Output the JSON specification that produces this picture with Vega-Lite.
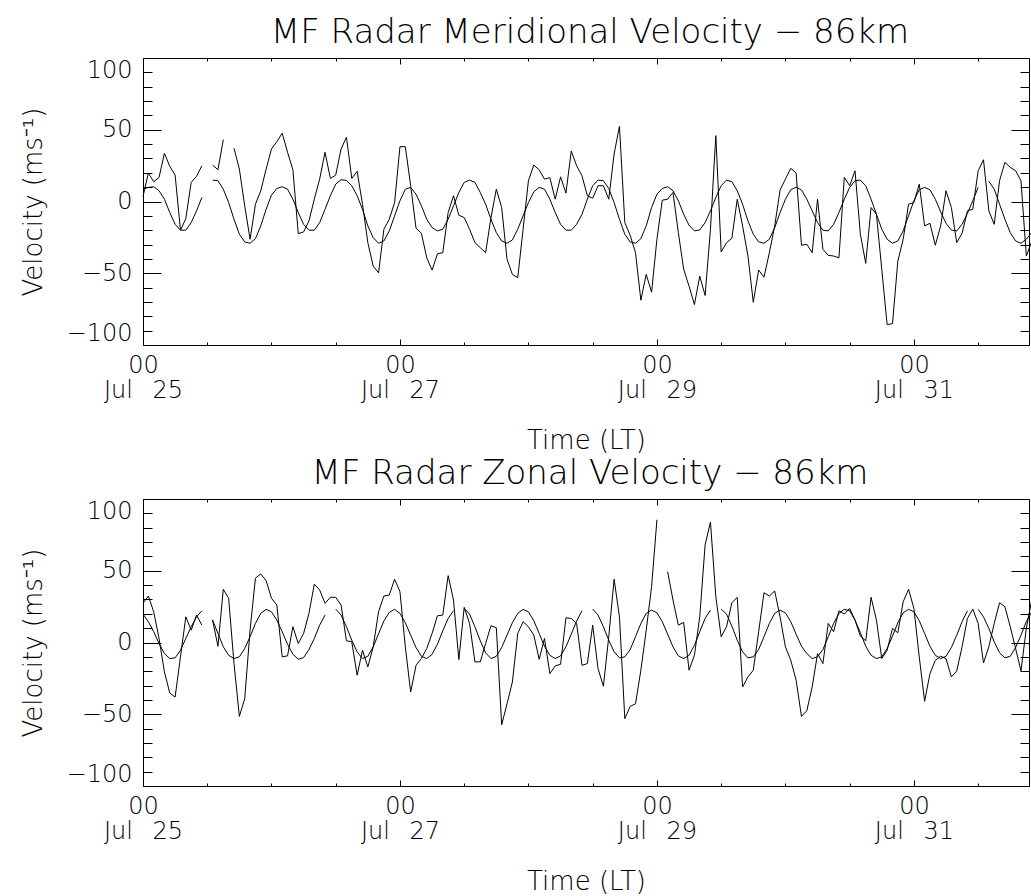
{
  "$schema": "https://vega.github.io/schema/vega-lite/v6.json",
  "background": "white",
  "padding": {"left": 20, "top": 15, "right": 0, "bottom": 0},
  "spacing": 3,
  "config": {
    "view": {"stroke": null},
    "font": "DejaVu Sans",
    "axis": {"grid": false, "domainColor": "black", "domainWidth": 1, "tickColor": "black", "tickWidth": 1, "tickOpacity": 1, "labelFont": "DejaVu Sans", "labelFontWeight": 200, "labelColor": "black", "labelFontSize": 24, "titleFont": "DejaVu Sans", "titleFontWeight": 200, "titleColor": "black", "titleFontSize": 26, "labelOverlap": false, "labelBound": false},
    "line": {"color": "black", "strokeWidth": 1, "clip": true, "invalid": "break-paths-filter-domains"}
  },
  "datasets": {
    "merRaw": [{"h":0,"v":3.5},{"h":1,"v":19.8},{"h":2,"v":13.8},{"h":3,"v":16.8},{"h":4,"v":33.6},{"h":5,"v":24.5},{"h":6,"v":18.4},{"h":7,"v":-20},{"h":8,"v":-11.9},{"h":9,"v":13.3},{"h":10,"v":17.5},{"h":11,"v":24.9},{"h":12,"v":null},{"h":13,"v":25.4},{"h":14,"v":22.1},{"h":15,"v":43.1},{"h":16,"v":null},{"h":17,"v":37.1},{"h":18,"v":22.6},{"h":19,"v":-3},{"h":20,"v":-26.3},{"h":21,"v":-1.9},{"h":22,"v":7.5},{"h":23,"v":22.6},{"h":24,"v":36.6},{"h":25,"v":41.7},{"h":26,"v":47.6},{"h":27,"v":34.3},{"h":28,"v":22.1},{"h":29,"v":-22.4},{"h":30,"v":-21.2},{"h":31,"v":-13.5},{"h":32,"v":1.6},{"h":33,"v":15.6},{"h":34,"v":34.3},{"h":35,"v":16.1},{"h":36,"v":18.4},{"h":37,"v":36.6},{"h":38,"v":44.8},{"h":39,"v":16.1},{"h":40,"v":21},{"h":41,"v":-1.9},{"h":42,"v":-28.7},{"h":43,"v":-45},{"h":44,"v":-49.7},{"h":45,"v":-19.3},{"h":46,"v":-12.4},{"h":47,"v":-0.7},{"h":48,"v":38.2},{"h":49,"v":38.2},{"h":50,"v":11},{"h":51,"v":-18.6},{"h":52,"v":-22.1},{"h":53,"v":-39.2},{"h":54,"v":-47.8},{"h":55,"v":-36.4},{"h":56,"v":-35.7},{"h":57,"v":-7.7},{"h":58,"v":4},{"h":59,"v":-9.6},{"h":60,"v":-11.2},{"h":61,"v":-19.3},{"h":62,"v":-28.7},{"h":63,"v":-32.2},{"h":64,"v":-35.7},{"h":65,"v":-11.2},{"h":66,"v":8.6},{"h":67,"v":-4.2},{"h":68,"v":-40.3},{"h":69,"v":-50.8},{"h":70,"v":-53.1},{"h":71,"v":-19.3},{"h":72,"v":14.5},{"h":73,"v":25.4},{"h":74,"v":22.1},{"h":75,"v":15.6},{"h":76,"v":16.6},{"h":77,"v":1.6},{"h":78,"v":17.2},{"h":79,"v":5.8},{"h":80,"v":35.2},{"h":81,"v":24.9},{"h":82,"v":17.9},{"h":83,"v":4},{"h":84,"v":2.3},{"h":85,"v":11},{"h":86,"v":11},{"h":87,"v":1.6},{"h":88,"v":33.1},{"h":89,"v":52.4},{"h":90,"v":-14.7},{"h":91,"v":-23.5},{"h":92,"v":-35.7},{"h":93,"v":-68.8},{"h":94,"v":-50.8},{"h":95,"v":-63.2},{"h":96,"v":-26.3},{"h":97,"v":0.9},{"h":98,"v":1.6},{"h":99,"v":6.3},{"h":100,"v":-21.7},{"h":101,"v":-47.3},{"h":102,"v":-59},{"h":103,"v":-71.8},{"h":104,"v":-52},{"h":105,"v":-65.5},{"h":106,"v":-19.3},{"h":107,"v":45.9},{"h":108,"v":-35.2},{"h":109,"v":-28.7},{"h":110,"v":-25.6},{"h":111,"v":1.6},{"h":112,"v":-17},{"h":113,"v":-38},{"h":114,"v":-70.2},{"h":115,"v":-47.8},{"h":116,"v":-52.7},{"h":117,"v":-35.7},{"h":118,"v":-17},{"h":119,"v":7.9},{"h":120,"v":15.6},{"h":121,"v":23.1},{"h":122,"v":19.8},{"h":123,"v":-30.5},{"h":124,"v":-29.8},{"h":125,"v":-35.7},{"h":126,"v":1.6},{"h":127,"v":-33.3},{"h":128,"v":-37.5},{"h":129,"v":-38},{"h":130,"v":-39.2},{"h":131,"v":16.8},{"h":132,"v":11},{"h":133,"v":21.4},{"h":134,"v":-22.8},{"h":135,"v":-43.1},{"h":136,"v":-4.2},{"h":137,"v":-8.9},{"h":138,"v":-47.3},{"h":139,"v":-85.8},{"h":140,"v":-85.1},{"h":141,"v":-41.5},{"h":142,"v":-26.3},{"h":143,"v":-1.9},{"h":144,"v":-0.7},{"h":145,"v":12.1},{"h":146,"v":-17},{"h":147,"v":-15.2},{"h":148,"v":-30.5},{"h":149,"v":-17},{"h":150,"v":7.5},{"h":151,"v":-4.2},{"h":152,"v":-28.7},{"h":153,"v":-22.1},{"h":154,"v":-6.5},{"h":155,"v":-5.4},{"h":156,"v":21.4},{"h":157,"v":29.1},{"h":158,"v":-6.5},{"h":159,"v":-15.9},{"h":160,"v":14.5},{"h":161,"v":27.3},{"h":162,"v":23.8},{"h":163,"v":21.4},{"h":164,"v":14.5},{"h":165,"v":-38},{"h":166,"v":-28}],
    "merFit": [{"h":0,"v":8.6},{"h":1,"v":9.8},{"h":2,"v":10.3},{"h":3,"v":7.5},{"h":4,"v":1.6},{"h":5,"v":-7.7},{"h":6,"v":-15.9},{"h":7,"v":-20},{"h":8,"v":-20},{"h":9,"v":-14.7},{"h":10,"v":-6.5},{"h":11,"v":2.8},{"h":12,"v":null},{"h":13,"v":14.9},{"h":14,"v":14.5},{"h":15,"v":8.6},{"h":16,"v":-0.7},{"h":17,"v":-12.4},{"h":18,"v":-22.8},{"h":19,"v":-28.2},{"h":20,"v":-29.1},{"h":21,"v":-25.9},{"h":22,"v":-17},{"h":23,"v":-5.4},{"h":24,"v":4.4},{"h":25,"v":9.1},{"h":26,"v":10.3},{"h":27,"v":8.6},{"h":28,"v":1.6},{"h":29,"v":-7.7},{"h":30,"v":-15.9},{"h":31,"v":-20},{"h":32,"v":-20},{"h":33,"v":-14.7},{"h":34,"v":-5.4},{"h":35,"v":4},{"h":36,"v":12.1},{"h":37,"v":15.2},{"h":38,"v":14.7},{"h":39,"v":11},{"h":40,"v":4},{"h":41,"v":-5.4},{"h":42,"v":-17},{"h":43,"v":-25.2},{"h":44,"v":-29.1},{"h":45,"v":-27.5},{"h":46,"v":-20.5},{"h":47,"v":-10},{"h":48,"v":0.5},{"h":49,"v":8.6},{"h":50,"v":9.8},{"h":51,"v":5.1},{"h":52,"v":-3},{"h":53,"v":-12.4},{"h":54,"v":-18.2},{"h":55,"v":-20.5},{"h":56,"v":-19.3},{"h":57,"v":-12.4},{"h":58,"v":-3},{"h":59,"v":6.3},{"h":60,"v":13.3},{"h":61,"v":14.9},{"h":62,"v":13.3},{"h":63,"v":6.3},{"h":64,"v":-1.9},{"h":65,"v":-12.4},{"h":66,"v":-21.7},{"h":67,"v":-27.5},{"h":68,"v":-29.1},{"h":69,"v":-26.8},{"h":70,"v":-19.3},{"h":71,"v":-10},{"h":72,"v":-0.7},{"h":73,"v":6.8},{"h":74,"v":9.8},{"h":75,"v":8.6},{"h":76,"v":1.6},{"h":77,"v":-7.7},{"h":78,"v":-15.9},{"h":79,"v":-20},{"h":80,"v":-20},{"h":81,"v":-15.9},{"h":82,"v":-8.9},{"h":83,"v":1.6},{"h":84,"v":11},{"h":85,"v":14.9},{"h":86,"v":14.5},{"h":87,"v":9.1},{"h":88,"v":-0.7},{"h":89,"v":-12.4},{"h":90,"v":-22.8},{"h":91,"v":-28.2},{"h":92,"v":-29.1},{"h":93,"v":-25.9},{"h":94,"v":-17},{"h":95,"v":-4.2},{"h":96,"v":5.1},{"h":97,"v":9.1},{"h":98,"v":10.3},{"h":99,"v":7.5},{"h":100,"v":0.5},{"h":101,"v":-8.9},{"h":102,"v":-16.6},{"h":103,"v":-20.5},{"h":104,"v":-19.8},{"h":105,"v":-14.7},{"h":106,"v":-6.5},{"h":107,"v":2.8},{"h":108,"v":11},{"h":109,"v":14.9},{"h":110,"v":13.8},{"h":111,"v":7.5},{"h":112,"v":-1.9},{"h":113,"v":-13.5},{"h":114,"v":-22.8},{"h":115,"v":-28.2},{"h":116,"v":-29.1},{"h":117,"v":-26.3},{"h":118,"v":-18.2},{"h":119,"v":-7.7},{"h":120,"v":1.6},{"h":121,"v":8.2},{"h":122,"v":10},{"h":123,"v":8},{"h":124,"v":1.6},{"h":125,"v":-6.5},{"h":126,"v":-14.7},{"h":127,"v":-20},{"h":128,"v":-20.5},{"h":129,"v":-15.9},{"h":130,"v":-7.7},{"h":131,"v":1.6},{"h":132,"v":9.8},{"h":133,"v":14.5},{"h":134,"v":14.9},{"h":135,"v":11},{"h":136,"v":1.6},{"h":137,"v":-8.9},{"h":138,"v":-19.3},{"h":139,"v":-26.3},{"h":140,"v":-29.1},{"h":141,"v":-27.5},{"h":142,"v":-20.5},{"h":143,"v":-10},{"h":144,"v":0.5},{"h":145,"v":8.2},{"h":146,"v":9.8},{"h":147,"v":8.2},{"h":148,"v":1.6},{"h":149,"v":-7.2},{"h":150,"v":-15.2},{"h":151,"v":-20},{"h":152,"v":-20.5},{"h":153,"v":-15.9},{"h":154,"v":-8.2},{"h":155,"v":0.5},{"h":156,"v":9.8},{"h":157,"v":null},{"h":158,"v":14},{"h":159,"v":8.6},{"h":160,"v":-1.9},{"h":161,"v":-12.4},{"h":162,"v":-21.7},{"h":163,"v":-27.5},{"h":164,"v":-29.1},{"h":165,"v":-26.3},{"h":166,"v":-21.7}],
    "zonRaw": [{"h":0,"v":27.3},{"h":1,"v":32.4},{"h":2,"v":21.4},{"h":3,"v":2.8},{"h":4,"v":-20.5},{"h":5,"v":-35.2},{"h":6,"v":-38},{"h":7,"v":-10},{"h":8,"v":17.9},{"h":9,"v":8.6},{"h":10,"v":19.1},{"h":11,"v":12.1},{"h":12,"v":null},{"h":13,"v":15.6},{"h":14,"v":-2.6},{"h":15,"v":37.1},{"h":16,"v":30.8},{"h":17,"v":-14.7},{"h":18,"v":-51.5},{"h":19,"v":-39.2},{"h":20,"v":8.6},{"h":21,"v":44.8},{"h":22,"v":47.8},{"h":23,"v":43.1},{"h":24,"v":30.8},{"h":25,"v":26.1},{"h":26,"v":-10},{"h":27,"v":-9.3},{"h":28,"v":11},{"h":29,"v":-0.7},{"h":30,"v":6.3},{"h":31,"v":20.3},{"h":32,"v":40.6},{"h":33,"v":36.6},{"h":34,"v":27.3},{"h":35,"v":31.5},{"h":36,"v":31.5},{"h":37,"v":26.1},{"h":38,"v":1.2},{"h":39,"v":0.5},{"h":40,"v":-22.8},{"h":41,"v":-5.4},{"h":42,"v":-17},{"h":43,"v":-3},{"h":44,"v":21.4},{"h":45,"v":32.4},{"h":46,"v":33.1},{"h":47,"v":44.1},{"h":48,"v":35.4},{"h":49,"v":-3},{"h":50,"v":-34.5},{"h":51,"v":-15.9},{"h":52,"v":-11.2},{"h":53,"v":-4.2},{"h":54,"v":6.3},{"h":55,"v":18.6},{"h":56,"v":19.1},{"h":57,"v":46.6},{"h":58,"v":29.6},{"h":59,"v":-11.9},{"h":60,"v":24.5},{"h":61,"v":13.3},{"h":62,"v":-13.5},{"h":63,"v":-13.5},{"h":64,"v":-0.7},{"h":65,"v":11.7},{"h":66,"v":10.3},{"h":67,"v":-57.4},{"h":68,"v":-42.7},{"h":69,"v":-27.5},{"h":70,"v":6.3},{"h":71,"v":14.5},{"h":72,"v":11},{"h":73,"v":5.1},{"h":74,"v":-11.7},{"h":75,"v":2.8},{"h":76,"v":-21.7},{"h":77,"v":-16.3},{"h":78,"v":-15.2},{"h":79,"v":17.2},{"h":80,"v":16.8},{"h":81,"v":13.3},{"h":82,"v":-15.9},{"h":83,"v":-14.7},{"h":84,"v":12.1},{"h":85,"v":-18.2},{"h":86,"v":-30.5},{"h":87,"v":4},{"h":88,"v":44.1},{"h":89,"v":17.9},{"h":90,"v":-53.1},{"h":91,"v":-44.5},{"h":92,"v":-42.7},{"h":93,"v":-19.3},{"h":94,"v":8.6},{"h":95,"v":38.9},{"h":96,"v":85.5},{"h":97,"v":null},{"h":98,"v":49.4},{"h":99,"v":29.6},{"h":100,"v":12.1},{"h":101,"v":14},{"h":102,"v":-19.3},{"h":103,"v":-8.9},{"h":104,"v":17.9},{"h":105,"v":68.1},{"h":106,"v":83.9},{"h":107,"v":31.9},{"h":108,"v":4},{"h":109,"v":11},{"h":110,"v":27.7},{"h":111,"v":31.5},{"h":112,"v":-31},{"h":113,"v":-24},{"h":114,"v":-19.3},{"h":115,"v":7.5},{"h":116,"v":34.7},{"h":117,"v":32.4},{"h":118,"v":35.9},{"h":119,"v":17.9},{"h":120,"v":-3},{"h":121,"v":-12.4},{"h":122,"v":-26.3},{"h":123,"v":-51.5},{"h":124,"v":-47.5},{"h":125,"v":-31},{"h":126,"v":-7.7},{"h":127,"v":-14.7},{"h":128,"v":13.3},{"h":129,"v":7.5},{"h":130,"v":22.1},{"h":131,"v":19.8},{"h":132,"v":23.8},{"h":133,"v":15.6},{"h":134,"v":4.4},{"h":135,"v":1.2},{"h":136,"v":31.5},{"h":137,"v":15.6},{"h":138,"v":-11.2},{"h":139,"v":-5.4},{"h":140,"v":9.8},{"h":141,"v":6.8},{"h":142,"v":28.4},{"h":143,"v":37.1},{"h":144,"v":23.8},{"h":145,"v":-10},{"h":146,"v":-41},{"h":147,"v":-21.7},{"h":148,"v":-12.4},{"h":149,"v":-9.6},{"h":150,"v":-11.2},{"h":151,"v":-24},{"h":152,"v":-19.8},{"h":153,"v":-3},{"h":154,"v":16.8},{"h":155,"v":23.3},{"h":156,"v":13.3},{"h":157,"v":-14.2},{"h":158,"v":-3},{"h":159,"v":13.3},{"h":160,"v":27.7},{"h":161,"v":24.9},{"h":162,"v":11},{"h":163,"v":-4.2},{"h":164,"v":-19.8},{"h":165,"v":9.8},{"h":166,"v":29.6}],
    "zonFit": [{"h":0,"v":19.8},{"h":1,"v":14.5},{"h":2,"v":7.5},{"h":3,"v":-0.7},{"h":4,"v":-7.7},{"h":5,"v":-11.2},{"h":6,"v":-10.7},{"h":7,"v":-5.4},{"h":8,"v":2.8},{"h":9,"v":11},{"h":10,"v":17.9},{"h":11,"v":22.1},{"h":12,"v":null},{"h":13,"v":15.6},{"h":14,"v":6.3},{"h":15,"v":-3},{"h":16,"v":-8.9},{"h":17,"v":-11.2},{"h":18,"v":-10},{"h":19,"v":-4.2},{"h":20,"v":4},{"h":21,"v":13.3},{"h":22,"v":20.3},{"h":23,"v":23.1},{"h":24,"v":21.4},{"h":25,"v":15.6},{"h":26,"v":7.5},{"h":27,"v":-1.2},{"h":28,"v":-8.2},{"h":29,"v":-11.7},{"h":30,"v":-10.5},{"h":31,"v":-4.9},{"h":32,"v":2.8},{"h":33,"v":12.1},{"h":34,"v":19.1},{"h":35,"v":null},{"h":36,"v":23.3},{"h":37,"v":19.1},{"h":38,"v":11},{"h":39,"v":1.6},{"h":40,"v":-6.5},{"h":41,"v":-11.2},{"h":42,"v":-9.6},{"h":43,"v":-3},{"h":44,"v":6},{"h":45,"v":15},{"h":46,"v":21},{"h":47,"v":23.1},{"h":48,"v":20.3},{"h":49,"v":13.8},{"h":50,"v":5.1},{"h":51,"v":-3.5},{"h":52,"v":-9.6},{"h":53,"v":-11.2},{"h":54,"v":-8.2},{"h":55,"v":-1.2},{"h":56,"v":8.2},{"h":57,"v":16.8},{"h":58,"v":22.1},{"h":59,"v":null},{"h":60,"v":23.8},{"h":61,"v":19.8},{"h":62,"v":11},{"h":63,"v":1.2},{"h":64,"v":-7.2},{"h":65,"v":-11.2},{"h":66,"v":-9.6},{"h":67,"v":-3.5},{"h":68,"v":5.1},{"h":69,"v":13.8},{"h":70,"v":20.3},{"h":71,"v":23.1},{"h":72,"v":21.4},{"h":73,"v":15.2},{"h":74,"v":6.3},{"h":75,"v":-2.6},{"h":76,"v":-8.9},{"h":77,"v":-11.2},{"h":78,"v":-9.3},{"h":79,"v":-3},{"h":80,"v":5.8},{"h":81,"v":14.9},{"h":82,"v":22.1},{"h":83,"v":null},{"h":84,"v":23.3},{"h":85,"v":19.1},{"h":86,"v":11},{"h":87,"v":1.6},{"h":88,"v":-6.5},{"h":89,"v":-10.7},{"h":90,"v":-10},{"h":91,"v":-4.9},{"h":92,"v":4},{"h":93,"v":13.3},{"h":94,"v":20.3},{"h":95,"v":22.6},{"h":96,"v":20.7},{"h":97,"v":14.5},{"h":98,"v":5.8},{"h":99,"v":-3},{"h":100,"v":-9.3},{"h":101,"v":-11.2},{"h":102,"v":-8.9},{"h":103,"v":-1.9},{"h":104,"v":7.5},{"h":105,"v":16.8},{"h":106,"v":22.6},{"h":107,"v":null},{"h":108,"v":23.3},{"h":109,"v":19.8},{"h":110,"v":11.4},{"h":111,"v":1.6},{"h":112,"v":-6.5},{"h":113,"v":-10.7},{"h":114,"v":-10},{"h":115,"v":-4.9},{"h":116,"v":4},{"h":117,"v":13.3},{"h":118,"v":20.3},{"h":119,"v":22.6},{"h":120,"v":20.7},{"h":121,"v":14.5},{"h":122,"v":5.8},{"h":123,"v":-2.6},{"h":124,"v":-7.7},{"h":125,"v":-11.2},{"h":126,"v":-10},{"h":127,"v":-4.9},{"h":128,"v":4},{"h":129,"v":13.3},{"h":130,"v":20.3},{"h":131,"v":23.1},{"h":132,"v":22.1},{"h":133,"v":15.6},{"h":134,"v":6.8},{"h":135,"v":-2.6},{"h":136,"v":-8.9},{"h":137,"v":-11.2},{"h":138,"v":-10},{"h":139,"v":-4.2},{"h":140,"v":4.4},{"h":141,"v":13.8},{"h":142,"v":20.7},{"h":143,"v":23.1},{"h":144,"v":21.4},{"h":145,"v":15.2},{"h":146,"v":6.3},{"h":147,"v":-2.6},{"h":148,"v":-8.9},{"h":149,"v":-11.2},{"h":150,"v":-9.6},{"h":151,"v":-3.5},{"h":152,"v":5.1},{"h":153,"v":14.5},{"h":154,"v":22.1},{"h":155,"v":null},{"h":156,"v":23.1},{"h":157,"v":17.9},{"h":158,"v":9.8},{"h":159,"v":0.5},{"h":160,"v":-7.2},{"h":161,"v":-10.7},{"h":162,"v":-9.6},{"h":163,"v":-3.5},{"h":164,"v":5.1},{"h":165,"v":14.5},{"h":166,"v":21.4}]
  },
  "vconcat": [
    {
      "width": 886,
      "height": 287,
      "title": {"text": "MF Radar Meridional Velocity − 86km", "font": "DejaVu Sans", "fontSize": 34, "fontWeight": 200, "color": "black", "offset": 8, "anchor": "middle", "frame": "group", "dx": 4},
      "resolve": {"axis": {"x": "independent", "y": "independent"}},
      "layer": [
        {
          "data": {"name": "merRaw"},
          "mark": {"type": "line"},
          "encoding": {
            "x": {"field": "h", "type": "quantitative", "scale": {"domain": [0, 165.5], "nice": false, "zero": false},
              "axis": {"orient": "bottom", "values": [0, 48, 96, 144], "ticks": true, "tickSize": -6, "domain": false, "labelExpr": "['00', 'Jul\u2002 ' + (25 + datum.value / 24)]", "labelPadding": 14.5, "labelLineHeight": 24.5, "labelFlush": false, "title": "Time (LT)", "titlePadding": 25}},
            "y": {"field": "v", "type": "quantitative", "scale": {"domain": [-100, 100], "nice": false, "zero": false},
              "axis": {"orient": "left", "values": [-100, -50, 0, 50, 100], "ticks": true, "tickSize": -18, "domain": false, "labelPadding": 29, "labelFlush": true, "title": "Velocity (ms⁻¹)", "titlePadding": 20}}
          }
        },
        {
          "data": {"name": "merFit"},
          "mark": {"type": "line"},
          "encoding": {
            "x": {"field": "h", "type": "quantitative", "scale": {"domain": [0, 165.5], "nice": false, "zero": false},
              "axis": {"orient": "bottom", "values": [0], "labels": false, "domain": true, "ticks": false, "title": null}},
            "y": {"field": "v", "type": "quantitative", "scale": {"domain": [-100, 100], "nice": false, "zero": false},
              "axis": {"orient": "left", "values": [0], "labels": false, "domain": true, "ticks": false, "title": null}}
          }
        },
        {
          "data": {"name": "merFit"},
          "mark": {"type": "line", "opacity": 0},
          "encoding": {
            "x": {"field": "h", "type": "quantitative", "scale": {"domain": [0, 165.5], "nice": false, "zero": false},
              "axis": {"orient": "top", "values": [0], "labels": false, "domain": true, "ticks": false, "title": null}},
            "y": {"field": "v", "type": "quantitative", "scale": {"domain": [-100, 100], "nice": false, "zero": false},
              "axis": {"orient": "right", "values": [0], "labels": false, "domain": true, "ticks": false, "title": null}}
          }
        },
        {
          "data": {"name": "merFit"},
          "mark": {"type": "line", "opacity": 0},
          "encoding": {
            "x": {"field": "h", "type": "quantitative", "scale": {"domain": [0, 165.5], "nice": false, "zero": false},
              "axis": {"orient": "bottom", "offset": -3, "values": [12,24,36,60,72,84,108,120,132,156], "labels": false, "domain": false, "ticks": true, "tickSize": 3, "title": null}},
            "y": {"field": "v", "type": "quantitative", "scale": {"domain": [-100, 100], "nice": false, "zero": false},
              "axis": {"orient": "left", "offset": -9, "values": [-90,-80,-70,-60,-40,-30,-20,-10,10,20,30,40,60,70,80,90], "labels": false, "domain": false, "ticks": true, "tickSize": 9, "title": null}}
          }
        },
        {
          "data": {"name": "merFit"},
          "mark": {"type": "line", "opacity": 0},
          "encoding": {
            "x": {"field": "h", "type": "quantitative", "scale": {"domain": [0, 165.5], "nice": false, "zero": false},
              "axis": {"orient": "top", "offset": -6, "values": [0, 48, 96, 144], "labels": false, "domain": false, "ticks": true, "tickSize": 6, "title": null}},
            "y": {"field": "v", "type": "quantitative", "scale": {"domain": [-100, 100], "nice": false, "zero": false},
              "axis": {"orient": "right", "offset": -18, "values": [-100, -50, 0, 50, 100], "labels": false, "domain": false, "ticks": true, "tickSize": 18, "title": null}}
          }
        },
        {
          "data": {"name": "merFit"},
          "mark": {"type": "line", "opacity": 0},
          "encoding": {
            "x": {"field": "h", "type": "quantitative", "scale": {"domain": [0, 165.5], "nice": false, "zero": false},
              "axis": {"orient": "top", "offset": -3, "values": [12,24,36,60,72,84,108,120,132,156], "labels": false, "domain": false, "ticks": true, "tickSize": 3, "title": null}},
            "y": {"field": "v", "type": "quantitative", "scale": {"domain": [-100, 100], "nice": false, "zero": false},
              "axis": {"orient": "right", "offset": -9, "values": [-90,-80,-70,-60,-40,-30,-20,-10,10,20,30,40,60,70,80,90], "labels": false, "domain": false, "ticks": true, "tickSize": 9, "title": null}}
          }
        }
      ]
    },
    {
      "width": 886,
      "height": 287,
      "title": {"text": "MF Radar Zonal Velocity − 86km", "font": "DejaVu Sans", "fontSize": 34, "fontWeight": 200, "color": "black", "offset": 8, "anchor": "middle", "frame": "group", "dx": 4},
      "resolve": {"axis": {"x": "independent", "y": "independent"}},
      "layer": [
        {
          "data": {"name": "zonRaw"},
          "mark": {"type": "line"},
          "encoding": {
            "x": {"field": "h", "type": "quantitative", "scale": {"domain": [0, 165.5], "nice": false, "zero": false},
              "axis": {"orient": "bottom", "values": [0, 48, 96, 144], "ticks": true, "tickSize": -6, "domain": false, "labelExpr": "['00', 'Jul\u2002 ' + (25 + datum.value / 24)]", "labelPadding": 14.5, "labelLineHeight": 24.5, "labelFlush": false, "title": "Time (LT)", "titlePadding": 25}},
            "y": {"field": "v", "type": "quantitative", "scale": {"domain": [-100, 100], "nice": false, "zero": false},
              "axis": {"orient": "left", "values": [-100, -50, 0, 50, 100], "ticks": true, "tickSize": -18, "domain": false, "labelPadding": 29, "labelFlush": true, "title": "Velocity (ms⁻¹)", "titlePadding": 20}}
          }
        },
        {
          "data": {"name": "zonFit"},
          "mark": {"type": "line"},
          "encoding": {
            "x": {"field": "h", "type": "quantitative", "scale": {"domain": [0, 165.5], "nice": false, "zero": false},
              "axis": {"orient": "bottom", "values": [0], "labels": false, "domain": true, "ticks": false, "title": null}},
            "y": {"field": "v", "type": "quantitative", "scale": {"domain": [-100, 100], "nice": false, "zero": false},
              "axis": {"orient": "left", "values": [0], "labels": false, "domain": true, "ticks": false, "title": null}}
          }
        },
        {
          "data": {"name": "zonFit"},
          "mark": {"type": "line", "opacity": 0},
          "encoding": {
            "x": {"field": "h", "type": "quantitative", "scale": {"domain": [0, 165.5], "nice": false, "zero": false},
              "axis": {"orient": "top", "values": [0], "labels": false, "domain": true, "ticks": false, "title": null}},
            "y": {"field": "v", "type": "quantitative", "scale": {"domain": [-100, 100], "nice": false, "zero": false},
              "axis": {"orient": "right", "values": [0], "labels": false, "domain": true, "ticks": false, "title": null}}
          }
        },
        {
          "data": {"name": "zonFit"},
          "mark": {"type": "line", "opacity": 0},
          "encoding": {
            "x": {"field": "h", "type": "quantitative", "scale": {"domain": [0, 165.5], "nice": false, "zero": false},
              "axis": {"orient": "bottom", "offset": -3, "values": [12,24,36,60,72,84,108,120,132,156], "labels": false, "domain": false, "ticks": true, "tickSize": 3, "title": null}},
            "y": {"field": "v", "type": "quantitative", "scale": {"domain": [-100, 100], "nice": false, "zero": false},
              "axis": {"orient": "left", "offset": -9, "values": [-90,-80,-70,-60,-40,-30,-20,-10,10,20,30,40,60,70,80,90], "labels": false, "domain": false, "ticks": true, "tickSize": 9, "title": null}}
          }
        },
        {
          "data": {"name": "zonFit"},
          "mark": {"type": "line", "opacity": 0},
          "encoding": {
            "x": {"field": "h", "type": "quantitative", "scale": {"domain": [0, 165.5], "nice": false, "zero": false},
              "axis": {"orient": "top", "offset": -6, "values": [0, 48, 96, 144], "labels": false, "domain": false, "ticks": true, "tickSize": 6, "title": null}},
            "y": {"field": "v", "type": "quantitative", "scale": {"domain": [-100, 100], "nice": false, "zero": false},
              "axis": {"orient": "right", "offset": -18, "values": [-100, -50, 0, 50, 100], "labels": false, "domain": false, "ticks": true, "tickSize": 18, "title": null}}
          }
        },
        {
          "data": {"name": "zonFit"},
          "mark": {"type": "line", "opacity": 0},
          "encoding": {
            "x": {"field": "h", "type": "quantitative", "scale": {"domain": [0, 165.5], "nice": false, "zero": false},
              "axis": {"orient": "top", "offset": -3, "values": [12,24,36,60,72,84,108,120,132,156], "labels": false, "domain": false, "ticks": true, "tickSize": 3, "title": null}},
            "y": {"field": "v", "type": "quantitative", "scale": {"domain": [-100, 100], "nice": false, "zero": false},
              "axis": {"orient": "right", "offset": -9, "values": [-90,-80,-70,-60,-40,-30,-20,-10,10,20,30,40,60,70,80,90], "labels": false, "domain": false, "ticks": true, "tickSize": 9, "title": null}}
          }
        }
      ]
    }
  ]
}
